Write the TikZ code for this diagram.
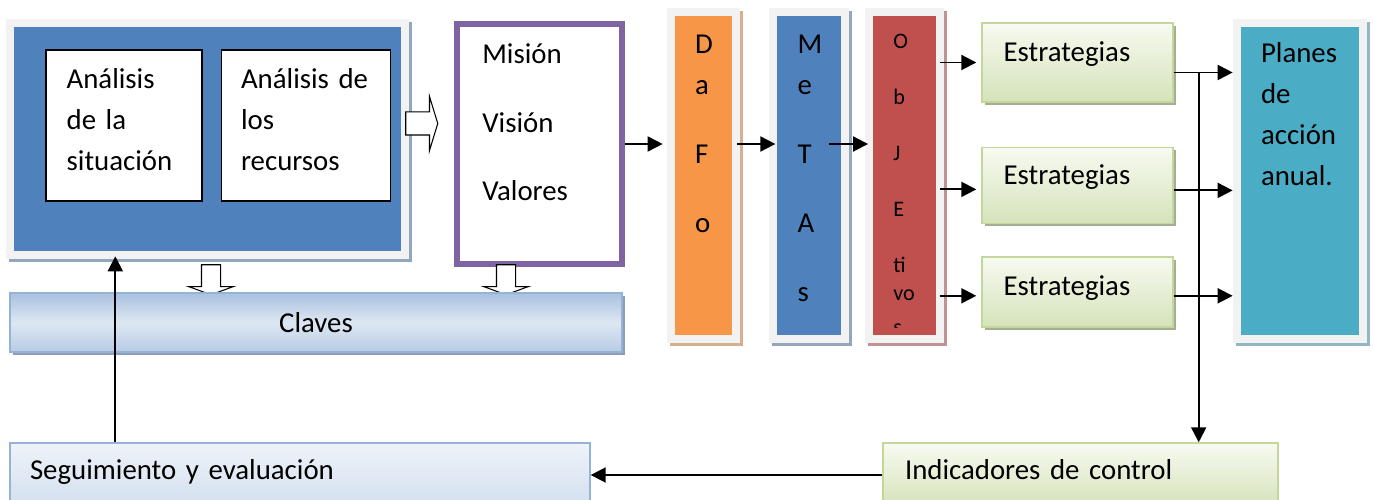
\documentclass[tikz,border=0pt]{standalone}
\usepackage{fontspec}
\setmainfont{Carlito}
\usetikzlibrary{shapes.arrows, arrows.meta, positioning, shadows}

\definecolor{framegray}{HTML}{F2F2F2}
\definecolor{offblue}{HTML}{4F81BD}
\definecolor{offpurple}{HTML}{8064A2}
\definecolor{offorange}{HTML}{F79646}
\definecolor{offred}{HTML}{C0504D}
\definecolor{offteal}{HTML}{4BACC6}
\definecolor{stratline}{HTML}{C3D69B}
\definecolor{strattop}{HTML}{F7FAF1}
\definecolor{stratbot}{HTML}{D5E3BA}
\definecolor{stratshadow}{HTML}{A4AE92}
\definecolor{claveline}{HTML}{95B3D7}
\definecolor{clavetop}{HTML}{A9C1DF}
\definecolor{clavemid}{HTML}{DDE7F2}
\definecolor{clavebot}{HTML}{B7CBE4}
\definecolor{claveshadow}{HTML}{8E9DB3}
\definecolor{segtop}{HTML}{EEF3F9}
\definecolor{segbot}{HTML}{D3DFEF}

\newcommand{\mainfs}{\fontsize{16.4}{23.3}\selectfont}
\newcommand{\smallfs}{\fontsize{12.6}{15.9}\selectfont}

\begin{document}
\begin{tikzpicture}[
    font=\mainfs,
    panel/.style={rectangle, fill=framegray, inner sep=0pt,
        path picture={\fill[#1] ([shift={(0.16cm,0.16cm)}]path picture bounding box.south west)
            rectangle ([shift={(-0.16cm,-0.16cm)}]path picture bounding box.north east);},
        drop shadow={shadow xshift=0.06cm, shadow yshift=-0.06cm, fill=#1!40!lightgray, opacity=1}},
    whitebox/.style={rectangle, draw, thick, fill=white, minimum height=3.02cm},
    strat/.style={rectangle, draw=stratline, thick, top color=strattop, bottom color=stratbot,
        minimum width=3.82cm, drop shadow={shadow xshift=0.06cm, shadow yshift=-0.06cm, fill=stratshadow, opacity=1}},
    clave/.style={rectangle, draw=claveline, thick, top color=clavetop, bottom color=clavebot, middle color=clavemid,
        drop shadow={shadow xshift=0.06cm, shadow yshift=-0.06cm, fill=claveshadow, opacity=1}},
    segbox/.style={rectangle, draw=claveline, thick, top color=segtop, bottom color=segbot, minimum height=1.28cm,
        align=left, text height=0.75em, text depth=0.25em},
    indbox/.style={rectangle, draw=stratline, thick, top color=strattop, bottom color=stratbot, minimum height=1.28cm,
        align=left, text height=0.75em, text depth=0.25em},
    txt/.style={inner sep=0pt, align=left, text width=4cm},
    blockarrow/.style={single arrow, draw, semithick, fill=white, inner sep=0.22cm,
        single arrow head extend=0.31cm, single arrow tip angle=146, minimum height=0.64cm},
    downarrow/.style={blockarrow, inner sep=0.18cm, single arrow head extend=0.26cm,
        single arrow tip angle=140, minimum height=0.6cm, shape border rotate=270},
    arrow/.style={-{Triangle[length=0.3cm, width=0.3cm]}, line width=1.1pt}
]
    \useasboundingbox (0,0) rectangle (27.5,-10);

    % Diagnostico
    \node[panel=offblue, minimum width=8.06cm, minimum height=4.8cm] (sit) at (4.15,-2.78) {};
    \node[whitebox, minimum width=3.12cm] (situacion) at (2.48,-2.51) {};
    \node[whitebox, minimum width=3.38cm, right=0.36cm of situacion] (recursos) {};
    \node[txt, anchor=base west] (tsituacion) at ([shift={(0.42,-0.78)}]situacion.north west) {Análisis\\de la\\situación};
    \node[txt, anchor=base west] (trecursos) at ([shift={(0.4,-0.78)}]recursos.north west) {Análisis de\\los\\recursos};
    \node[blockarrow] (flecha) at (8.4,-2.47) {};

    % Mision, vision y valores
    \node[rectangle, draw=offpurple, line width=0.12cm, fill=white, minimum width=3.3cm, minimum height=4.8cm] (mvv) at (10.79,-2.88) {};
    \node[txt, anchor=base west] (tmvv) at ([shift={(0.56,-0.86)}]mvv.north west) {Misión\\[15.4pt]Visión\\[15.4pt]Valores};

    % Claves
    \node[downarrow] (flechasit) at (4.22,-5.56) {};
    \node[downarrow] (flechamvv) at (10.12,-5.56) {};
    \node[clave, minimum width=12.24cm, minimum height=1.18cm] (claves) at (6.32,-6.45) {Claves};

    % DAFO, metas y objetivos
    \node[panel=offorange, minimum width=1.46cm, minimum height=6.7cm] (dafo) at (14.07,-3.51) {};
    \node[panel=offblue, minimum width=1.6cm, minimum height=6.7cm, right=0.56cm of dafo] (metas) {};
    \node[panel=offred, minimum width=1.58cm, minimum height=6.7cm, right=0.32cm of metas] (obj) {};
    \node[txt, anchor=base west] (tdafo) at ([shift={(0.56,-0.92)}]dafo.north west) {D\\a\\[16pt]F\\[16pt]o};
    \node[txt, anchor=base west] (tmetas) at ([shift={(0.58,-0.92)}]metas.north west) {M\\e\\[16pt]T\\[16pt]A\\[16pt]s};
    \begin{scope}
        \clip (obj.north west) rectangle ([yshift=0.32cm]obj.south east);
        \node[txt, font=\smallfs, anchor=base west] (tobj) at ([shift={(0.56,-0.82)}]obj.north west) {O\\[16pt]b\\[16pt]J\\[16pt]E\\[16pt]ti\\vo\\[3pt]s};
    \end{scope}

    % Estrategias y planes
    \node[strat, minimum height=1.58cm] (estr1) at (21.55,-1.25) {};
    \node[strat, minimum height=1.52cm, below=0.88cm of estr1] (estr2) {};
    \node[strat, minimum height=1.4cm, below=0.64cm of estr2] (estr3) {};
    \node[txt, anchor=base west] (testr1) at ([shift={(0.44,-0.78)}]estr1.north west) {Estrategias};
    \node[txt, anchor=base west] (testr2) at ([shift={(0.44,-0.76)}]estr2.north west) {Estrategias};
    \node[txt, anchor=base west] (testr3) at ([shift={(0.44,-0.78)}]estr3.north west) {Estrategias};
    \node[panel=offteal, minimum width=2.68cm, minimum height=6.48cm] (planes) at (26.0,-3.62) {};
    \node[txt, anchor=base west] (tplanes) at ([shift={(0.56,-0.88)}]planes.north west) {Planes\\de\\acción\\anual.};

    % Seguimiento
    \node[segbox, text width=10.8cm, inner xsep=0.4cm] (seg) at (6.0,-9.5) {Seguimiento y evaluación};
    \node[indbox, text width=7.02cm, inner xsep=0.44cm] (indic) at (21.61,-9.5) {Indicadores de control};

    % Conexiones
    \draw[arrow, shorten >=0.08cm] (mvv.east) -- (mvv.east -| dafo.west);
    \draw[arrow, shorten <=-0.06cm, shorten >=-0.14cm] (mvv.east -| dafo.east) -- (mvv.east -| metas.west);
    \draw[arrow, shorten <=-0.4cm, shorten >=-0.06cm] (mvv.east -| metas.east) -- (mvv.east -| obj.west);
    \draw[arrow, shorten <=-0.1cm, shorten >=0.1cm] (estr1.west -| obj.east) -- (estr1.west);
    \draw[arrow, shorten <=-0.1cm, shorten >=0.1cm] ([yshift=-0.08cm]estr2.west -| obj.east) -- ([yshift=-0.08cm]estr2.west);
    \draw[arrow, shorten <=-0.1cm, shorten >=0.1cm] ([yshift=-0.08cm]estr3.west -| obj.east) -- ([yshift=-0.08cm]estr3.west);
    \draw[arrow] ([yshift=-0.2cm]estr1.east) -- ([yshift=-0.2cm]estr1.east -| planes.west);
    \draw[arrow] ([yshift=-0.1cm]estr2.east) -- ([yshift=-0.1cm]estr2.east -| planes.west);
    \draw[arrow] ([yshift=-0.08cm]estr3.east) -- ([yshift=-0.08cm]estr3.east -| planes.west);
    \coordinate (bus) at ([xshift=0.5cm, yshift=-0.2cm]estr1.east);
    \draw[arrow] (bus) -- (bus |- indic.north);
    \draw[arrow] (indic.west) -- (seg.east);
    \draw[arrow, shorten >=-0.06cm] ([xshift=2.12cm]seg.north west) -- ([xshift=2.12cm]seg.north west |- sit.south);
\end{tikzpicture}
\end{document}
